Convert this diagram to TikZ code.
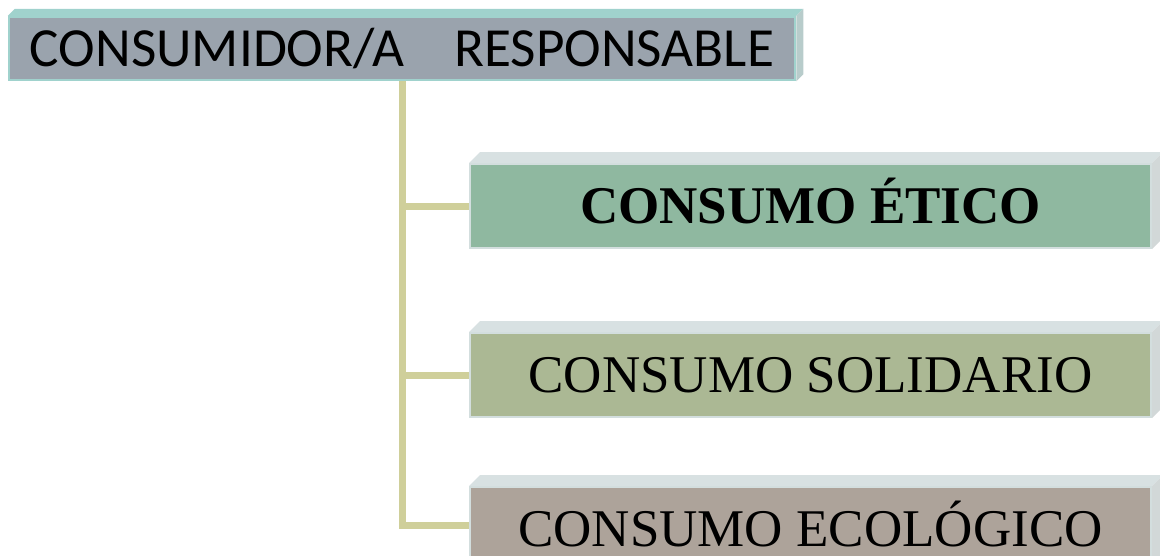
\documentclass[tikz,border=0pt]{standalone}
\usepackage{fontspec}
\setmainfont{Liberation Serif}
\newfontfamily\headsans{Carlito}
\usetikzlibrary{calc}
\definecolor{tealedge}{HTML}{A0D2CD}
\definecolor{headfill}{HTML}{9AA3AD}
\definecolor{paleedge}{HTML}{D3DEDE}
\definecolor{paletop}{HTML}{D8E1E2}
\definecolor{paleside}{HTML}{D2D8D8}
\definecolor{tealside}{HTML}{B8CCCB}
\definecolor{eticofill}{HTML}{8FB8A0}
\definecolor{solifill}{HTML}{ABB894}
\definecolor{ecofill}{HTML}{ADA39A}
\definecolor{linkkhaki}{HTML}{CFCF9A}
\tikzset{
    headbox/.style={draw=tealedge, line width=2.5pt, fill=headfill,
        minimum width=786pt, minimum height=63pt, inner sep=0pt,
        text height=35.5pt, text depth=0pt,
        font=\headsans\fontsize{55.2}{60}\selectfont},
    kindbox/.style={draw=paleedge, line width=2pt, minimum width=681pt,
        minimum height=84pt, inner sep=0pt, text height=35pt, text depth=0pt,
        font=\fontsize{53}{60}\selectfont},
    kindbold/.style={font=\fontsize{53}{60}\selectfont\bfseries},
    link/.style={draw=linkkhaki, line width=7pt},
}

\begin{document}
\begin{tikzpicture}[x=1pt, y=-1pt]
    \useasboundingbox (0, 0) rectangle (1160, 555);
    \clip (0, 0) rectangle (1160, 555);
    % boxes
    \node[headbox] (resp) at (402, 48.5) {CONSUMIDOR/A\hspace{.9em}RESPONSABLE};
    \node[kindbox, kindbold, fill=eticofill] (etico) at (810.5, 206)
        {CONSUMO ÉTICO};
    \node[kindbox, fill=solifill] (soli) at (810.5, 375)
        {CONSUMO SOLIDARIO};
    \node[kindbox, fill=ecofill] (eco) at (810.5, 529)
        {CONSUMO ECOLÓGICO};
    % bevels
    \fill[tealedge] (resp.north west) -- ++(7, -7)
        -- ($(resp.north east) + (7, -7)$) -- (resp.north east) -- cycle;
    \fill[tealside] (resp.north east) -- ++(7, -7)
        -- ($(resp.south east) + (7, -7)$) -- (resp.south east) -- cycle;
    \fill[paletop] (etico.north west) -- ++(11, -11)
        -- ($(etico.north east) + (11, -11)$) -- (etico.north east) -- cycle;
    \fill[paleside] (etico.north east) -- ++(11, -11)
        -- ($(etico.south east) + (11, -11)$) -- (etico.south east) -- cycle;
    \fill[paletop] (soli.north west) -- ++(11, -11)
        -- ($(soli.north east) + (11, -11)$) -- (soli.north east) -- cycle;
    \fill[paleside] (soli.north east) -- ++(11, -11)
        -- ($(soli.south east) + (11, -11)$) -- (soli.south east) -- cycle;
    \fill[paletop] (eco.north west) -- ++(11, -11)
        -- ($(eco.north east) + (11, -11)$) -- (eco.north east) -- cycle;
    \fill[paleside] (eco.north east) -- ++(11, -11)
        -- ($(eco.south east) + (11, -11)$) -- (eco.south east) -- cycle;
    % connectors
    \draw[link] (resp.south) |- ([yshift=4pt]eco.west);
    \draw[link] (resp.south |- etico.west) -- (etico.west);
    \draw[link] (resp.south |- soli.west) -- (soli.west);
\end{tikzpicture}
\end{document}
